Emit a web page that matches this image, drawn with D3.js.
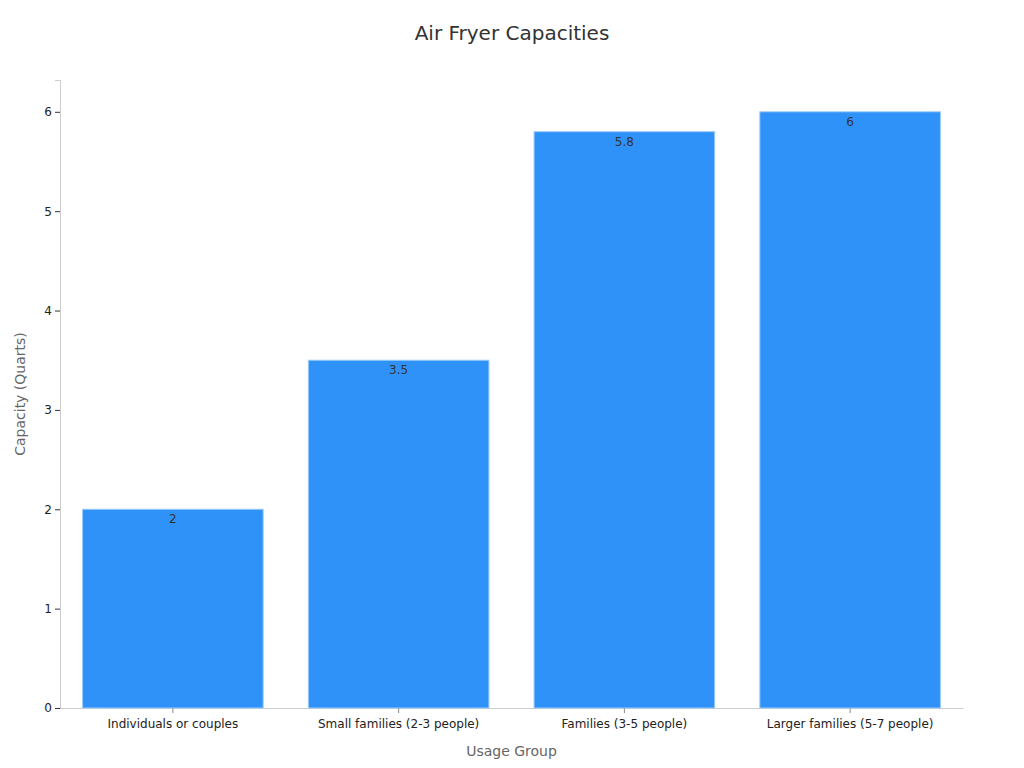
<!DOCTYPE html>
<html>
<head>
<meta charset="utf-8">
<script src="https://cdn.jsdelivr.net/npm/d3@7"></script>
<style>
  body { margin: 0; background: #fff; }
  text { font-family: "DejaVu Sans", sans-serif; }
</style>
</head>
<body>
<svg id="chart" width="1024" height="768"></svg>
<script>
// chart data
var groups = ["Individuals or couples", "Small families (2-3 people)", "Families (3-5 people)", "Larger families (5-7 people)"],
    capacities = [2, 3.5, 5.8, 6],
    yTicks = [0, 1, 2, 3, 4, 5, 6];

var svg = d3.select("#chart"),
    margin = {top: 80, right: 61, bottom: 60, left: 60},
    width = 1024 - margin.left - margin.right,
    height = 768 - margin.top - margin.bottom;

var g = svg.append("g")
    .attr("transform", "translate(" + margin.left + "," + margin.top + ")");

var x = d3.scaleBand()
    .domain(groups)
    .range([0, width])
    .paddingInner(0.2)
    .paddingOuter(0.1);

var y = d3.scaleLinear()
    .domain([0, 6.32])
    .range([height, 0]);

// y axis
var yAxis = g.append("g")
    .call(d3.axisLeft(y).tickValues(yTicks).tickSize(5).tickFormat(d3.format("d")));
yAxis.select(".domain").attr("stroke", "#ccc");
yAxis.selectAll(".tick line").attr("stroke", "#333");
yAxis.selectAll(".tick text").attr("fill", "#222").style("font-size", "12px");

// x axis
var xAxis = g.append("g")
    .attr("transform", "translate(0," + height + ")")
    .call(d3.axisBottom(x).tickSize(5).tickSizeOuter(0));
xAxis.select(".domain").attr("stroke", "#ccc");
xAxis.selectAll(".tick line").attr("stroke", "#888");
xAxis.selectAll(".tick text").attr("fill", "#222").attr("dy", "1em").style("font-size", "12px");

// bars
var data = groups.map(function (grp, i) {
    return {group: grp, value: capacities[i]};
});

g.selectAll(".bar")
    .data(data)
    .enter()
    .append("rect")
    .attr("class", "bar")
    .attr("x", function (d) { return x(d.group); })
    .attr("y", function (d) { return y(d.value); })
    .attr("width", x.bandwidth())
    .attr("height", function (d) { return height - y(d.value); })
    .attr("fill", "#2f92f9")
    .attr("stroke", "#9ccaf8")
    .attr("stroke-width", 1);

// value labels
g.selectAll(".val")
    .data(data)
    .enter()
    .append("text")
    .attr("class", "val")
    .attr("x", function (d) { return x(d.group) + x.bandwidth() / 2; })
    .attr("y", function (d) { return y(d.value) + 14; })
    .attr("text-anchor", "middle")
    .attr("fill", "#333")
    .style("font-size", "12px")
    .text(function (d) { return d.value; });

// title and axis titles
svg.append("text")
    .attr("x", 512)
    .attr("y", 40)
    .attr("text-anchor", "middle")
    .attr("fill", "#333")
    .style("font-size", "20px")
    .text("Air Fryer Capacities");

svg.append("text")
    .attr("x", margin.left + width / 2)
    .attr("y", 756)
    .attr("text-anchor", "middle")
    .attr("fill", "#666")
    .style("font-size", "14px")
    .text("Usage Group");

svg.append("text")
    .attr("transform", "translate(25," + (margin.top + height / 2) + ") rotate(-90)")
    .attr("text-anchor", "middle")
    .attr("fill", "#666")
    .style("font-size", "14px")
    .text("Capacity (Quarts)");
</script>
</body>
</html>
